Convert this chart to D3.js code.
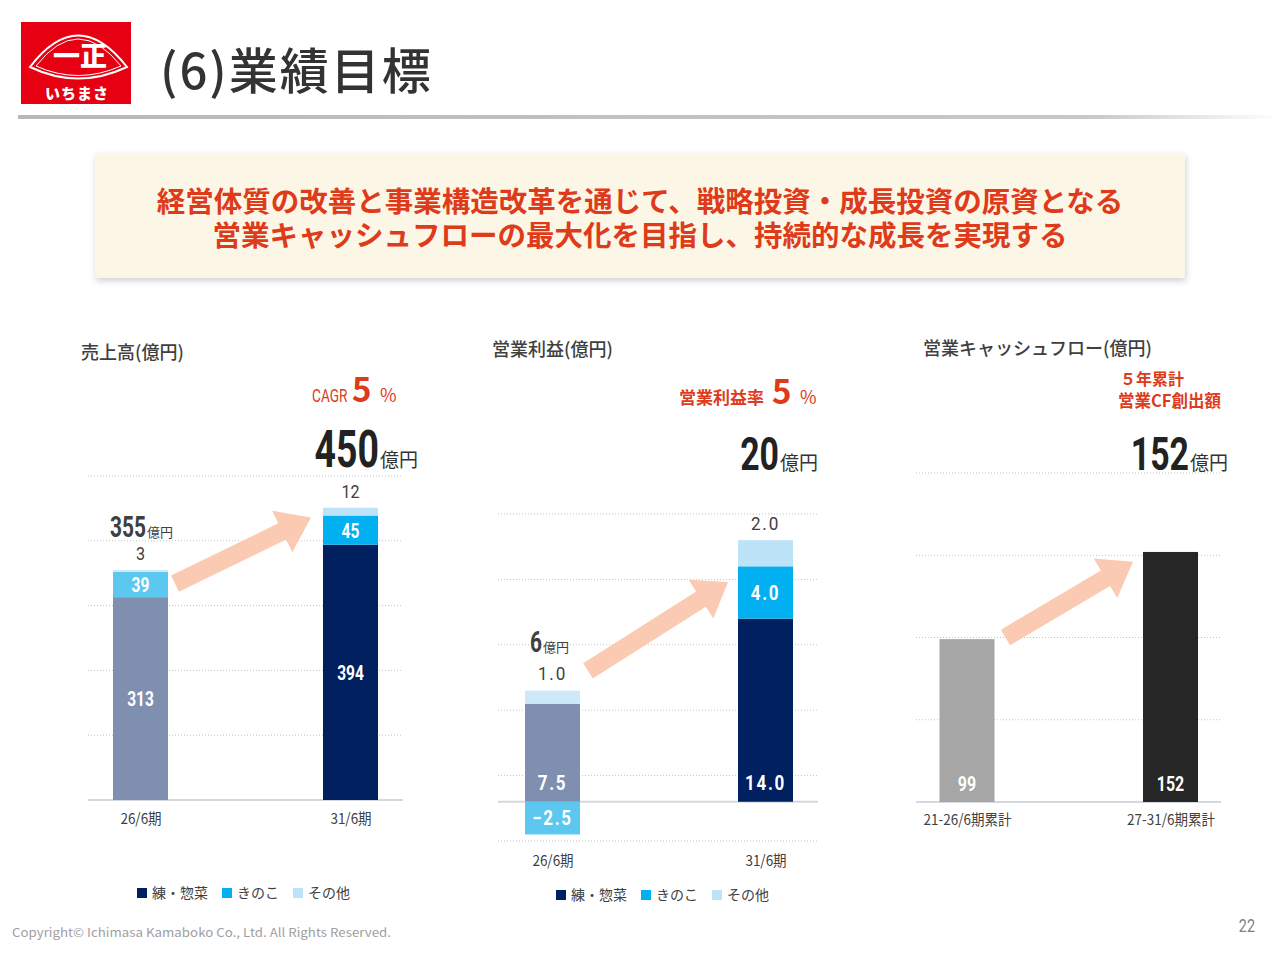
<!DOCTYPE html>
<html lang="ja">
<head>
<meta charset="UTF-8">
<title>(6)業績目標</title>
<script src="https://d3js.org/d3.v7.min.js"></script>
<style>
  body { margin: 0; background: #fff; }
  text { font-family: "Noto Sans CJK JP", sans-serif; }
  .num { font-family: "Roboto", "Noto Sans", sans-serif; }
</style>
</head>
<body>
<svg></svg>
<script>
// ---- data ----
const seriesNames = ['練・惣菜', 'きのこ', 'その他']

const salesPeriods = ['26/6期', '31/6期']
const salesNeri = [313, 394]
const salesKinoko = [39, 45]
const salesOther = [3, 12]
const salesTotal = [355, 450]
const salesTicks = [0, 100, 200, 300, 400, 500]

const profitPeriods = ['26/6期', '31/6期']
const profitNeri = [7.5, 14.0]
const profitKinoko = [-2.5, 4.0]
const profitOther = [1.0, 2.0]
const profitTotal = [6, 20]
const profitTicks = [-3, 2, 7, 12, 17, 22]

const cfPeriods = ['21-26/6期累計', '27-31/6期累計']
const cfValues = [99, 152]
const cfTicks = [0, 50, 100, 150, 200]

// ---- colours ----
const brightColors = ['#002060', '#00b0f0', '#bde3f8']
const fadedColors = ['#7f8fb0', '#5cc8f0', '#cde9f9']
const red = '#de3b1a'
const textGray = '#404040'
const arrowColor = '#fbcab2'
const narrow = 0.74   // horizontal squeeze for the condensed number face

const svg = d3.select('svg').attr('width', 1280).attr('height', 960)
const defs = svg.append('defs')

// ---- header ----
const lineGrad = defs.append('linearGradient').attr('id', 'hline')
lineGrad.append('stop').attr('offset', '0%').attr('stop-color', '#b8b8b8')
lineGrad.append('stop').attr('offset', '85%').attr('stop-color', '#c8c8c8')
lineGrad.append('stop').attr('offset', '100%').attr('stop-color', '#ffffff')
svg.append('rect').attr('x', 18).attr('y', 115).attr('width', 1262).attr('height', 4)
  .attr('fill', 'url(#hline)')

const logo = svg.append('g')
logo.append('rect').attr('x', 21).attr('y', 22).attr('width', 110).attr('height', 82).attr('fill', '#e60012')
logo.append('path')
  .attr('d', 'M30,67 Q78,4 127,67 Q78,90 30,67 Z')
  .attr('fill', 'none').attr('stroke', '#fff').attr('stroke-width', 2)
logo.append('path')
  .attr('d', 'M36,66 Q78,12 121,66 Q78,85 36,66 Z')
  .attr('fill', 'none').attr('stroke', '#fff').attr('stroke-width', 1)
logo.append('text').attr('x', 80).attr('y', 66).attr('text-anchor', 'middle')
  .attr('fill', '#fff').attr('font-size', 27).attr('font-weight', 900)
  .attr('font-family', '"Noto Serif CJK JP","Noto Sans CJK JP",serif')
  .text('一正')
logo.append('text').attr('x', 77).attr('y', 99).attr('text-anchor', 'middle')
  .attr('fill', '#fff').attr('font-size', 15).attr('font-weight', 900)
  .attr('letter-spacing', 1)
  .text('いちまさ')

svg.append('text').attr('x', 160).attr('y', 89)
  .attr('font-size', 49).attr('font-weight', 500).attr('fill', '#333')
  .attr('letter-spacing', 2)
  .text('(6)業績目標')

// ---- banner ----
const shadow = defs.append('filter').attr('id', 'shadow')
  .attr('x', '-5%').attr('y', '-10%').attr('width', '110%').attr('height', '130%')
shadow.append('feDropShadow').attr('dx', 1).attr('dy', 3).attr('stdDeviation', 3)
  .attr('flood-color', '#000').attr('flood-opacity', 0.18)
svg.append('rect').attr('x', 95).attr('y', 153).attr('width', 1090).attr('height', 125)
  .attr('fill', '#fcf6e6').attr('filter', 'url(#shadow)')
const bannerLines = [
  '経営体質の改善と事業構造改革を通じて、戦略投資・成長投資の原資となる',
  '営業キャッシュフローの最大化を目指し、持続的な成長を実現する'
]
svg.selectAll('.banner').data(bannerLines).join('text')
  .attr('class', 'banner')
  .attr('x', 640).attr('y', (d, i) => 212 + i * 34)
  .attr('text-anchor', 'middle').attr('font-size', 28.5).attr('font-weight', 700)
  .attr('fill', red).text(d => d)

// ---- helpers ----
function arrowPath(x1, y1, x2, y2, sw, hw, hl) {
  const len = Math.hypot(x2 - x1, y2 - y1)
  const ux = (x2 - x1) / len, uy = (y2 - y1) / len
  const nx = -uy, ny = ux
  const bx = x2 - ux * hl, by = y2 - uy * hl
  const pts = [
    [x1 + nx * sw / 2, y1 + ny * sw / 2],
    [bx + nx * sw / 2, by + ny * sw / 2],
    [bx + nx * hw / 2, by + ny * hw / 2],
    [x2, y2],
    [bx - nx * hw / 2, by - ny * hw / 2],
    [bx - nx * sw / 2, by - ny * sw / 2],
    [x1 - nx * sw / 2, y1 - ny * sw / 2]
  ]
  return 'M' + pts.map(p => p.join(',')).join('L') + 'Z'
}

// condensed number: a text squeezed horizontally around its anchor point
function nt(g, x, y, anchor, sx) {
  return g.append('text').attr('class', 'num')
    .attr('transform', `translate(${x},${y}) scale(${sx || narrow},1)`)
    .attr('text-anchor', anchor || 'start')
}

function grid(g, y, ticks, x0, x1) {
  g.selectAll('.grid').data(ticks.filter(t => t !== 0)).join('line')
    .attr('class', 'grid')
    .attr('x1', x0).attr('x2', x1)
    .attr('y1', d => y(d)).attr('y2', d => y(d))
    .attr('stroke', '#c4c4c4').attr('stroke-width', 1).attr('stroke-dasharray', '1,2')
  g.append('line').attr('x1', x0).attr('x2', x1)
    .attr('y1', y(0)).attr('y2', y(0))
    .attr('stroke', '#d6d8e0').attr('stroke-width', 2)
}

function xAxis(g, x, y0) {
  const ax = g.append('g').attr('transform', `translate(0,${y0})`)
    .call(d3.axisBottom(x).tickSize(0).tickPadding(0))
  ax.select('.domain').remove()
  ax.selectAll('text').attr('font-size', 15).attr('font-family', '"Roboto","Noto Sans CJK JP",sans-serif')
    .attr('fill', textGray).attr('dy', 0).attr('transform', 'scale(0.9,1)')
}

function legend(g, x0, y0) {
  let xp = x0
  seriesNames.forEach((name, i) => {
    g.append('rect').attr('x', xp).attr('y', y0 - 10).attr('width', 10).attr('height', 10)
      .attr('fill', brightColors[i])
    const t = g.append('text').attr('x', xp + 15).attr('y', y0)
      .attr('font-size', 14).attr('fill', textGray).text(name)
    xp += 15 + t.node().getComputedTextLength() + 14
  })
}

function title(g, x, y, txt) {
  g.append('text').attr('x', x).attr('y', y).attr('font-size', 18)
    .attr('font-weight', 500).attr('fill', textGray).text(txt)
}

function bigTotal(g, xEnd, yBase, value, size) {
  const u = g.append('text').attr('x', xEnd).attr('y', yBase).attr('text-anchor', 'end')
    .attr('font-size', 19).attr('fill', '#333').text('億円')
  const uw = u.node().getComputedTextLength()
  nt(g, xEnd - uw - 1, yBase, 'end', 0.72)
    .attr('font-size', size).attr('font-weight', 700).attr('fill', '#222').text(value)
}

function smallTotal(g, x, yBase, value, size) {
  const n = nt(g, x, yBase, 'start', 0.72)
    .attr('font-size', size).attr('font-weight', 700).attr('fill', '#404040').text(value)
  const nw = n.node().getComputedTextLength() * 0.72
  g.append('text').attr('x', x + nw + 1).attr('y', yBase)
    .attr('font-size', 13).attr('fill', '#404040').text('億円')
}

function stacked(cfg) {
  const g = svg.append('g')
  const rows = cfg.periods.map((p, i) => ({
    period: p,
    [seriesNames[0]]: cfg.neri[i],
    [seriesNames[1]]: cfg.kinoko[i],
    [seriesNames[2]]: cfg.other[i]
  }))
  const stack = d3.stack().keys(seriesNames).offset(d3.stackOffsetDiverging)(rows)
  const x = d3.scalePoint().domain(cfg.periods).range(cfg.centers)
  const y = d3.scaleLinear().domain(cfg.domain).range(cfg.range)
  const bw = 55

  grid(g, y, cfg.ticks, cfg.plotX[0], cfg.plotX[1])

  const a = cfg.arrow
  g.append('path')
    .attr('d', arrowPath(x(cfg.periods[0]) + bw / 2 + a.dx0, y(a.v0),
      x(cfg.periods[1]) - bw / 2 - a.dx1, y(a.v1), 18, 46, 32))
    .attr('fill', arrowColor)

  stack.forEach((s, si) => {
    g.selectAll('.seg' + si).data(s).join('rect')
      .attr('class', 'seg' + si)
      .attr('x', d => x(d.data.period) - bw / 2)
      .attr('width', bw)
      .attr('y', d => y(d[1]))
      .attr('height', d => y(d[0]) - y(d[1]))
      .attr('fill', (d, i) => i === 0 ? fadedColors[si] : brightColors[si])
  })

  // in-bar labels
  const neriS = stack[0], kinS = stack[1], othS = stack[2]
  const pos = (xx, yy, s) => `translate(${xx},${yy}) scale(${s},1)`
  g.selectAll('.lblN').data(neriS).join('text')
    .attr('class', 'num lblN')
    .attr('transform', d => pos(x(d.data.period),
      cfg.neriBottom ? y(0) - 19 : (y(d[0]) + y(d[1])) / 2, cfg.inScale))
    .attr('dy', '0.36em').attr('text-anchor', 'middle')
    .attr('font-size', cfg.inSize).attr('font-weight', 700).attr('fill', '#fff')
    .attr('letter-spacing', cfg.spacing)
    .text(d => cfg.fmt(d.data[seriesNames[0]]))
  g.selectAll('.lblK').data(kinS).join('text')
    .attr('class', 'num lblK')
    .attr('transform', d => pos(x(d.data.period), (y(d[0]) + y(d[1])) / 2, cfg.inScale))
    .attr('dy', '0.36em').attr('text-anchor', 'middle')
    .attr('font-size', cfg.inSize).attr('font-weight', 700).attr('fill', '#fff')
    .attr('letter-spacing', cfg.spacing)
    .text(d => cfg.fmt(d.data[seriesNames[1]]))
  g.selectAll('.lblO').data(othS).join('text')
    .attr('class', 'num lblO')
    .attr('transform', d => pos(x(d.data.period), y(d[1]) - 17, cfg.outScale))
    .attr('dy', '0.36em').attr('text-anchor', 'middle')
    .attr('font-size', 19).attr('fill', textGray)
    .attr('letter-spacing', cfg.spacing)
    .text(d => cfg.fmt(d.data[seriesNames[2]]))

  // totals
  const top0 = y(othS[0][1])
  smallTotal(g, x(cfg.periods[0]) - bw / 2 + cfg.firstTotal.dx, top0 + cfg.firstTotal.dy, cfg.total[0], 29)
  bigTotal(g, cfg.bigTotal.x, cfg.bigTotal.y, cfg.total[1], cfg.bigTotal.size)

  xAxis(g, x, cfg.axisY)
  legend(g, cfg.legend[0], cfg.legend[1])
  return g
}

// ---- chart 1 : 売上高 ----
const g1 = stacked({
  periods: salesPeriods, neri: salesNeri, kinoko: salesKinoko, other: salesOther,
  total: salesTotal, ticks: salesTicks,
  domain: [0, 500], range: [800, 476], centers: [140.5, 350.5], plotX: [88, 403],
  fmt: d => d, spacing: 0, neriBottom: false, inSize: 21, inScale: 0.74, outScale: 0.85,
  arrow: { dx0: 7, v0: 334, dx1: 12, v1: 436 },
  firstTotal: { dx: -3, dy: -33 },
  bigTotal: { x: 418, y: 467, size: 52 },
  axisY: 824, legend: [137, 898]
})
title(g1, 81, 359, '売上高(億円)')
nt(g1, 312, 402, 'start', 0.72).attr('font-size', 19).attr('fill', red).text('CAGR')
g1.append('text').attr('x', 352).attr('y', 402).attr('fill', red)
  .attr('font-size', 33).attr('font-weight', 700).text('5')
g1.append('text').attr('x', 380).attr('y', 402).attr('fill', red)
  .attr('font-size', 18).text('%')

// ---- chart 2 : 営業利益 ----
const g2 = stacked({
  periods: profitPeriods, neri: profitNeri, kinoko: profitKinoko, other: profitOther,
  total: profitTotal, ticks: profitTicks,
  domain: [-3, 22], range: [841, 514], centers: [552.5, 765.5], plotX: [498, 818],
  fmt: d3.format('.1f'), spacing: 2, neriBottom: true, inSize: 20, inScale: 0.85, outScale: 0.9,
  arrow: { dx0: 8, v0: 10.0, dx1: 10, v1: 16.8 },
  firstTotal: { dx: 5, dy: -39 },
  bigTotal: { x: 818, y: 470, size: 47 },
  axisY: 866, legend: [556, 900]
})
title(g2, 492, 356, '営業利益(億円)')
g2.append('text').attr('x', 679).attr('y', 404).attr('fill', red)
  .attr('font-size', 17).attr('font-weight', 700).text('営業利益率')
g2.append('text').attr('x', 772).attr('y', 404).attr('fill', red)
  .attr('font-size', 33).attr('font-weight', 700).text('5')
g2.append('text').attr('x', 800).attr('y', 404).attr('fill', red)
  .attr('font-size', 18).text('%')

// ---- chart 3 : 営業キャッシュフロー ----
const g3 = svg.append('g')
const x3 = d3.scalePoint().domain(cfPeriods).range([967, 1170.5])
const y3 = d3.scaleLinear().domain([0, 200]).range([802, 473])
const cfColors = ['#a6a6a6', '#262626']
grid(g3, y3, cfTicks, 916, 1221)
g3.append('path')
  .attr('d', arrowPath(x3(cfPeriods[0]) + 27.5 + 11, y3(100), x3(cfPeriods[1]) - 27.5 - 10, y3(146), 18, 46, 32))
  .attr('fill', arrowColor)
g3.selectAll('.cfbar').data(cfValues).join('rect')
  .attr('class', 'cfbar')
  .attr('x', (d, i) => x3(cfPeriods[i]) - 27.5).attr('width', 55)
  .attr('y', d => y3(d)).attr('height', d => y3(0) - y3(d))
  .attr('fill', (d, i) => cfColors[i])
g3.selectAll('.cflbl').data(cfValues).join('text')
  .attr('class', 'num cflbl')
  .attr('transform', (d, i) => `translate(${x3(cfPeriods[i])},${y3(0) - 19}) scale(0.76,1)`)
  .attr('dy', '0.36em')
  .attr('text-anchor', 'middle').attr('font-size', 21).attr('font-weight', 700)
  .attr('fill', '#fff').text(d => d)
xAxis(g3, x3, 825)
title(g3, 923, 355, '営業キャッシュフロー(億円)')
bigTotal(g3, 1228, 470, cfValues[1], 47)
g3.append('text').attr('x', 1120).attr('y', 385).attr('font-size', 16).attr('font-weight', 700)
  .attr('fill', red).text('５年累計')
g3.append('text').attr('x', 1118).attr('y', 407).attr('font-size', 16.5).attr('font-weight', 700)
  .attr('fill', red).text('営業CF創出額')

// ---- footer ----
svg.append('text').attr('x', 12).attr('y', 937).attr('font-size', 12)
  .attr('font-family', '"Noto Sans", sans-serif').attr('fill', '#a0a0a0')
  .attr('textLength', 379).attr('lengthAdjust', 'spacingAndGlyphs')
  .text('Copyright© Ichimasa Kamaboko Co., Ltd. All Rights Reserved.')
nt(svg, 1255, 932, 'end', 0.8).attr('font-size', 18).attr('fill', '#808080').text('22')
</script>
</body>
</html>
